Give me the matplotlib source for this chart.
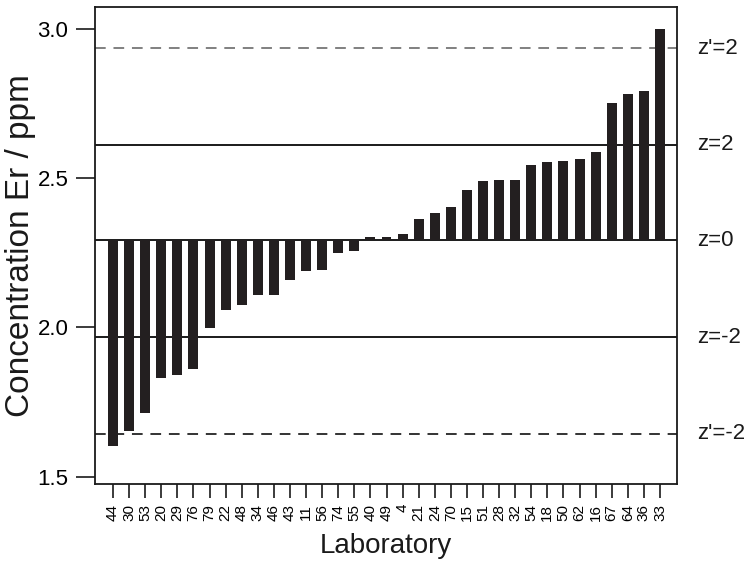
import matplotlib
matplotlib.use("Agg")
import matplotlib.pyplot as plt
import matplotlib.transforms as mtransforms

plt.rcParams['font.family'] = ['Liberation Sans', 'DejaVu Sans']

labs = ["44", "30", "53", "20", "29", "76", "79", "22", "48", "34", "46", "43",
        "11", "56", "74", "55", "40", "49", "4", "21", "24", "70", "15", "51",
        "28", "32", "54", "18", "50", "62", "16", "67", "64", "36", "33"]
values = [1.602, 1.652, 1.712, 1.829, 1.840, 1.860, 1.999, 2.059, 2.076, 2.109,
          2.108, 2.159, 2.188, 2.191, 2.249, 2.254, 2.304, 2.304, 2.313, 2.364,
          2.384, 2.404, 2.460, 2.490, 2.493, 2.493, 2.544, 2.553, 2.556, 2.563,
          2.586, 2.751, 2.782, 2.793, 3.000]
center = 2.291
level_values = [2.935, 2.612, 2.291, 1.967, 1.643]
level_labels = ["z'=2", "z=2", "z=0", "z=-2", "z'=-2"]
level_styles = ["--", "-", "-", "-", "--"]
level_colors = ["#808080", "#1a1a1a", "#1a1a1a", "#1a1a1a", "#333333"]
yticks = [1.5, 2.0, 2.5, 3.0]

fig = plt.figure(figsize=(7.5, 5.67), dpi=100)
ax = fig.add_axes([0.1267, 0.146, 0.776, 0.841])

x = list(range(len(labs)))
heights = [v - center for v in values]
ax.bar(x, heights, bottom=center, width=0.62, color="#231f20", zorder=3)

for yv, st, c in zip(level_values, level_styles, level_colors):
    if st == "--":
        ax.axhline(yv, color=c, lw=1.4, ls=(0, (5.5, 4)), zorder=2)
    else:
        ax.axhline(yv, color=c, lw=1.4, zorder=2)

trans = mtransforms.blended_transform_factory(ax.transAxes, ax.transData)
for yv, t in zip(level_values, level_labels):
    ax.text(1.034, yv, t, transform=trans, ha="left", va="center",
            fontsize=16, color="#1a1a1a")

ax.set_xlim(-1.12, len(labs) - 1 + 1.06)
ax.set_ylim(1.4746, 3.0716)
ax.set_xticks(x)
ax.set_xticklabels(labs, rotation=90, fontsize=11)
ax.set_yticks(yticks)
ax.set_yticklabels([f"{v:.1f}" for v in yticks], fontsize=16)
ax.tick_params(axis="x", length=10, width=1.2, color="#1a1a1a", pad=4)
ax.tick_params(axis="y", length=13.7, width=1.2, color="#1a1a1a", pad=5.5)
for s in ax.spines.values():
    s.set_linewidth(1.3)
    s.set_color("#1a1a1a")

ax.set_ylabel("Concentration Er / ppm", fontsize=24, labelpad=1, color="#1a1a1a")
ax.set_xlabel("Laboratory", fontsize=20, labelpad=9, color="#1a1a1a")

fig.savefig("out.png", dpi=100)
